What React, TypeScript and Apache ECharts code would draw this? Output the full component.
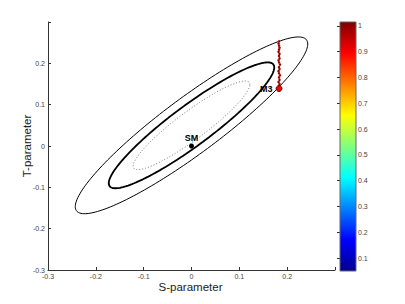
import React, { useEffect, useRef } from "react";
import * as echarts from "echarts";

// ---- data ----
const xTicks = [-0.3, -0.2, -0.1, 0, 0.1, 0.2, 0.3];
const yTicks = [-0.3, -0.2, -0.1, 0, 0.1, 0.2, 0.3];
const cbTicks = [0.1, 0.2, 0.3, 0.4, 0.5, 0.6, 0.7, 0.8, 0.9, 1];
const cbRange = [0.05, 1.015];
const xTitle = "S-parameter";
const yTitle = "T-parameter";

// confidence ellipses: centre, axis ratio, correlation, half-widths along S
const ellipseCenter = [0.0, 0.05];
const ellipseRatioTS = 0.88;
const ellipseRho = 0.92;
const ellipseScales = [0.122, 0.173, 0.243]; // dotted, thick, thin

// scan points (S, T, value)
const scanS = [0.183, 0.184, 0.182, 0.184, 0.183, 0.185, 0.183, 0.182, 0.184, 0.183, 0.185, 0.183, 0.182, 0.184, 0.183, 0.184, 0.182, 0.183, 0.184, 0.183, 0.182, 0.183];
const scanT = [0.145, 0.15, 0.155, 0.16, 0.166, 0.171, 0.176, 0.181, 0.186, 0.191, 0.197, 0.202, 0.207, 0.212, 0.218, 0.223, 0.228, 0.233, 0.238, 0.243, 0.248, 0.253];
const scanV = [0.98, 0.99, 0.98, 1.0, 0.99, 0.98, 1.0, 0.99, 0.98, 0.99, 1.0, 0.98, 0.99, 1.0, 0.98, 0.99, 1.0, 0.99, 0.98, 1.0, 0.99, 0.98];

const m3Point = [0.183, 0.139, 0.9];
const smPoint = [0, 0];

const jet = ["#00008F", "#0000FF", "#0080FF", "#00FFFF", "#80FF80", "#FFFF00", "#FF8000", "#FF0000", "#800000"];

function ellipsePoints(k: number) {
  const sx = k;
  const sy = k * ellipseRatioTS;
  const s = Math.sqrt(1 - ellipseRho * ellipseRho);
  const pts: number[][] = [];
  const n = 180;
  for (let i = 0; i <= n; i++) {
    const t = (2 * Math.PI * i) / n;
    const u = Math.cos(t);
    const v = Math.sin(t);
    pts.push([ellipseCenter[0] + sx * u, ellipseCenter[1] + sy * (ellipseRho * u + s * v)]);
  }
  return pts;
}

const G = { left: 48, top: 22, width: 287, height: 248 };
const CB = { left: 340, top: 22, width: 16, height: 249 };

const fmt = (v: number) => (Math.abs(v) < 1e-9 ? "0" : String(Math.round(v * 10) / 10));

export default function App() {
  const ref = useRef<HTMLDivElement>(null);
  useEffect(() => {
    if (!ref.current) return;
    const chart = echarts.init(ref.current, null, { renderer: "svg" });
    const font = "Liberation Sans";
    const scanData = scanS.map((s, i) => [s, scanT[i], scanV[i]]);
    // offset 0 = top of the colour bar (highest value)
    const jetStops = jet
      .map((c, i) => ({ offset: 1 - i / (jet.length - 1), color: c }))
      .sort((a, b) => a.offset - b.offset);
    const ellipseStyles = [
      { color: "#777", width: 1, type: [1, 2] as any },
      { color: "#000", width: 1.8, type: "solid" },
      { color: "#000", width: 1, type: "solid" },
    ];
    chart.setOption({
      animation: false,
      textStyle: { fontFamily: font },
      grid: [
        { ...G, containLabel: false },
        { ...CB, containLabel: false },
      ],
      xAxis: [
        {
          type: "value",
          gridIndex: 0,
          min: -0.3,
          max: 0.3,
          interval: 0.1,
          axisLine: { onZero: false, lineStyle: { color: "#333", width: 1 } },
          axisTick: { inside: true, length: 3, lineStyle: { color: "#333" } },
          axisLabel: {
            margin: 3,
            fontSize: 7,
            color: "#444",
            formatter: (v: number) => (Math.abs(v - 0.3) < 1e-6 ? "" : fmt(v)),
            showMaxLabel: true,
          },
          splitLine: { show: false },
        },
        { type: "value", gridIndex: 1, min: 0, max: 1, show: false },
      ],
      yAxis: [
        {
          type: "value",
          gridIndex: 0,
          min: -0.3,
          max: 0.3,
          interval: 0.1,
          axisLine: { show: true, onZero: false, lineStyle: { color: "#333", width: 1 } },
          axisTick: { show: true, inside: true, length: 3, lineStyle: { color: "#333" } },
          axisLabel: {
            margin: 3,
            fontSize: 7,
            color: "#444",
            formatter: (v: number) => (Math.abs(v - 0.3) < 1e-6 ? "" : fmt(v)),
          },
          splitLine: { show: false },
        },
        {
          type: "value",
          gridIndex: 1,
          position: "right",
          min: cbRange[0],
          max: cbRange[1],
          axisLine: { show: false },
          axisTick: { show: true, inside: true, length: 3, customValues: cbTicks, lineStyle: { color: "#333" } },
          axisLabel: { margin: 2, fontSize: 7, color: "#444", customValues: cbTicks, formatter: (v: number) => fmt(v) },
          splitLine: { show: false },
        },
      ],
      visualMap: {
        type: "continuous",
        show: false,
        min: cbRange[0],
        max: cbRange[1],
        dimension: 2,
        seriesIndex: [3, 4],
        inRange: { color: jet },
      },
      graphic: [
        {
          type: "rect",
          z: 1,
          shape: { x: CB.left, y: CB.top, width: CB.width, height: CB.height },
          style: {
            fill: new echarts.graphic.LinearGradient(0, 0, 0, 1, jetStops),
            stroke: "#666",
            lineWidth: 1,
          },
        },
        {
          type: "text",
          x: G.left + G.width / 2 - 1,
          y: 287,
          style: { text: xTitle, fontSize: 11.5, fill: "#222", fontFamily: font, align: "center", verticalAlign: "middle" },
        },
        {
          type: "text",
          x: 27,
          y: G.top + G.height / 2,
          rotation: Math.PI / 2,
          style: { text: yTitle, fontSize: 11.5, fill: "#222", fontFamily: font, align: "center", verticalAlign: "middle" },
        },
      ],
      series: [
        ...ellipseScales.map((k, i) => ({
          type: "line",
          xAxisIndex: 0,
          yAxisIndex: 0,
          data: ellipsePoints(k),
          showSymbol: false,
          symbol: "none",
          lineStyle: ellipseStyles[i],
          silent: true,
          z: 2,
        })),
        {
          type: "scatter",
          xAxisIndex: 0,
          yAxisIndex: 0,
          data: scanData,
          symbolSize: 2.5,
          itemStyle: { opacity: 1 },
          z: 3,
        },
        {
          type: "scatter",
          xAxisIndex: 0,
          yAxisIndex: 0,
          data: [m3Point],
          symbolSize: 6,
          itemStyle: { opacity: 1, borderColor: "#400", borderWidth: 0.8 },
          label: { show: true, position: "left", distance: 3, formatter: "M3", fontSize: 9, fontWeight: "bold", color: "#000", fontFamily: font },
          z: 4,
        },
        {
          type: "scatter",
          xAxisIndex: 0,
          yAxisIndex: 0,
          data: [smPoint],
          symbolSize: 5,
          itemStyle: { color: "#000", opacity: 1 },
          label: { show: true, position: "top", distance: 1, formatter: "SM", fontSize: 9, fontWeight: "bold", color: "#000", fontFamily: font },
          z: 4,
        },
      ],
    });
    return () => chart.dispose();
  }, []);
  return <div ref={ref} style={{ position: "absolute", left: 0, top: 0, width: 405, height: 304, background: "#fff" }} />;
}
